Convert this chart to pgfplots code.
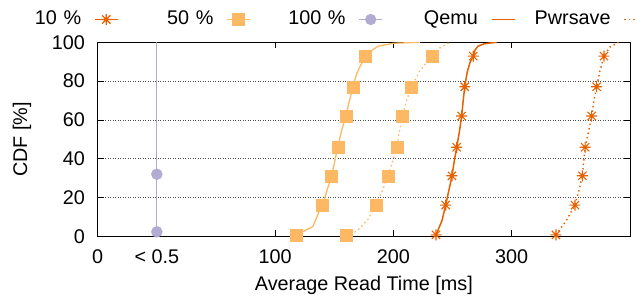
\documentclass[border=0pt]{standalone}
\usepackage{fontspec}
\setmainfont{Liberation Sans}
\usepackage{pgfplots}
\pgfplotsset{compat=1.18}
\definecolor{cA}{HTML}{E66101}
\definecolor{cB}{HTML}{FDB863}
\definecolor{cC}{HTML}{B2ABD2}
\pgfdeclareplotmark{star8}{%
 \pgfpathmoveto{\pgfqpoint{-\pgfplotmarksize}{0pt}}\pgfpathlineto{\pgfqpoint{\pgfplotmarksize}{0pt}}%
 \pgfpathmoveto{\pgfqpoint{0pt}{-\pgfplotmarksize}}\pgfpathlineto{\pgfqpoint{0pt}{\pgfplotmarksize}}%
 \pgfpathmoveto{\pgfqpoint{-0.75\pgfplotmarksize}{-0.75\pgfplotmarksize}}\pgfpathlineto{\pgfqpoint{0.75\pgfplotmarksize}{0.75\pgfplotmarksize}}%
 \pgfpathmoveto{\pgfqpoint{-0.75\pgfplotmarksize}{0.75\pgfplotmarksize}}\pgfpathlineto{\pgfqpoint{0.75\pgfplotmarksize}{-0.75\pgfplotmarksize}}%
 \pgfusepathqstroke}
\begin{document}
\fontsize{19.8}{23}\selectfont
\begin{tikzpicture}
\path[use as bounding box] (-97.7pt,-60.7pt) rectangle (538.3pt,236.3pt);
\begin{axis}[
 at={(0pt,0pt)}, anchor=south west,
 scale only axis, width=532.3pt, height=194pt,
 xmin=-50, xmax=400, ymin=0, ymax=100,
 xtick={-50,0,100,200,300}, xticklabels={0,{< 0.5},100,200,300},
 ytick={0,20,40,60,80,100},
 tick align=inside, major tick length=6pt,
 tick style={black, line width=0.8pt},
 ymajorgrids, major grid style={black!70, line width=0.8pt, dash pattern=on 1pt off 1.5pt},
 axis line style={line width=0.9pt},
 /pgf/number format/assume math mode=true,
 xticklabel style={yshift=-6.5pt},
 yticklabel style={xshift=-6pt},
 xlabel={Average Read Time [ms]}, ylabel={CDF [\%]},
 xlabel style={at={(axis description cs:0.5,-0.251)}, anchor=center},
 ylabel style={at={(axis description cs:-0.142,0.5)}, anchor=center},
 legend columns=-1, legend plot pos=right,
 legend style={draw=none, fill=none, at={(axis description cs:0,1)}, anchor=west,
   xshift=-96.7pt, yshift=22.8pt, inner sep=0pt,
   nodes={inner sep=0pt, text width=80pt, align=right},
   /tikz/every odd column/.append style={column sep=13pt},
   /tikz/every even column/.append style={column sep=15pt}},
 legend image code/.code={\draw[mark repeat=2,mark phase=2,#1] plot coordinates {(0pt,0pt) (11.5pt,0pt) (23pt,0pt)};},
]
\addlegendimage{color=cA, draw=cA, line width=1.2pt, mark=star8, mark size=5.5pt}
\addlegendentry{10 \%}
\addlegendimage{color=cB, draw=cB, line width=1.2pt, mark=square*, mark size=5.5pt}
\addlegendentry{50 \%}
\addlegendimage{color=cC, draw=cC, line width=1.2pt, mark=*, mark size=5pt}
\addlegendentry{100 \%}
\addlegendimage{legend image code/.code={\draw[cA, line width=1.8pt] (0pt,0pt) -- (23pt,0pt);}}
\addlegendentry{Qemu}
\addlegendimage{legend image code/.code={\draw[cA, line width=1.6pt, dash pattern=on 1.5pt off 3pt] (0pt,0pt) -- (23pt,0pt);}}
\addlegendentry{Pwrsave}

% 100 % (both at < 0.5 ms)
\addplot[cC, line width=1.2pt, forget plot] coordinates {(0,0) (0,100)};
\addplot[cC, only marks, mark=*, mark size=5.5pt, forget plot] coordinates {(0,2.3) (0,32)};

% 50 % Qemu
\addplot[cB, line width=1.3pt, forget plot] coordinates {
(118.2,0.7) (131.8,5) (137.9,13.7) (140.2,16.1) (144,24) (147.8,31.2) (150.5,39) (152.9,45.9)
(156,54) (159.7,62.0) (162.5,69) (165.8,77.1) (169,84) (173,89) (176.2,92.9) (181,95.5)
(187,98) (199.9,99.5) (222.5,100)};
\addplot[cB, only marks, mark=square*, mark size=6pt, forget plot] coordinates {
(118.2,0.7) (140.2,16.1) (147.8,31.2) (152.9,45.9) (159.7,62.0) (165.8,77.1) (176.2,92.9)};

% 50 % Pwrsave
\addplot[cB, line width=1.3pt, dash pattern=on 1.5pt off 3pt, forget plot] coordinates {
(159.9,0.7) (169,2.6) (178.8,9) (185.3,16.1) (191,24) (195.2,31.2) (199.5,39) (202.8,45.9)
(205,54) (207.8,62.0) (211,70) (215.4,77.1) (222,85) (232.4,92.9) (240,97.5) (247.8,100)};
\addplot[cB, only marks, mark=square*, mark size=6pt, forget plot] coordinates {
(159.9,0.7) (185.3,16.1) (195.2,31.2) (202.8,45.9) (207.8,62.0) (215.4,77.1) (232.4,92.9)};

% 10 % Qemu
\addplot[cA, line width=1.5pt, forget plot] coordinates {
(236.0,0.7) (241,8) (244.2,16.1) (247,24) (249.5,31.2) (251.5,39) (253.5,45.9) (255.8,54)
(257.7,62.0) (259,70) (260.3,77.1) (262.5,85) (265,90) (267.5,92.9) (269,96) (271.5,98)
(277,99.3) (287.3,100)};
\addplot[cA, only marks, mark=star8, mark size=5.5pt, line width=1.1pt, forget plot] coordinates {
(236.0,0.7) (244.2,16.1) (249.5,31.2) (253.5,45.9) (257.7,62.0) (260.3,77.1) (267.5,92.9)};

% 10 % Pwrsave
\addplot[cA, line width=1.4pt, dash pattern=on 1.5pt off 3pt, forget plot] coordinates {
(337.4,0.7) (346,8) (353.5,16.1) (357,24) (359.7,31.2) (361,39) (362,45.9) (365,54)
(367.6,62.0) (369.5,70) (371.8,77.1) (374.5,85) (378.0,92.9) (383,97.5) (390.1,100)};
\addplot[cA, only marks, mark=star8, mark size=5.5pt, line width=1.1pt, forget plot] coordinates {
(337.4,0.7) (353.5,16.1) (359.7,31.2) (362,45.9) (367.6,62.0) (371.8,77.1) (378.0,92.9)};
\end{axis}
\end{tikzpicture}
\end{document}
